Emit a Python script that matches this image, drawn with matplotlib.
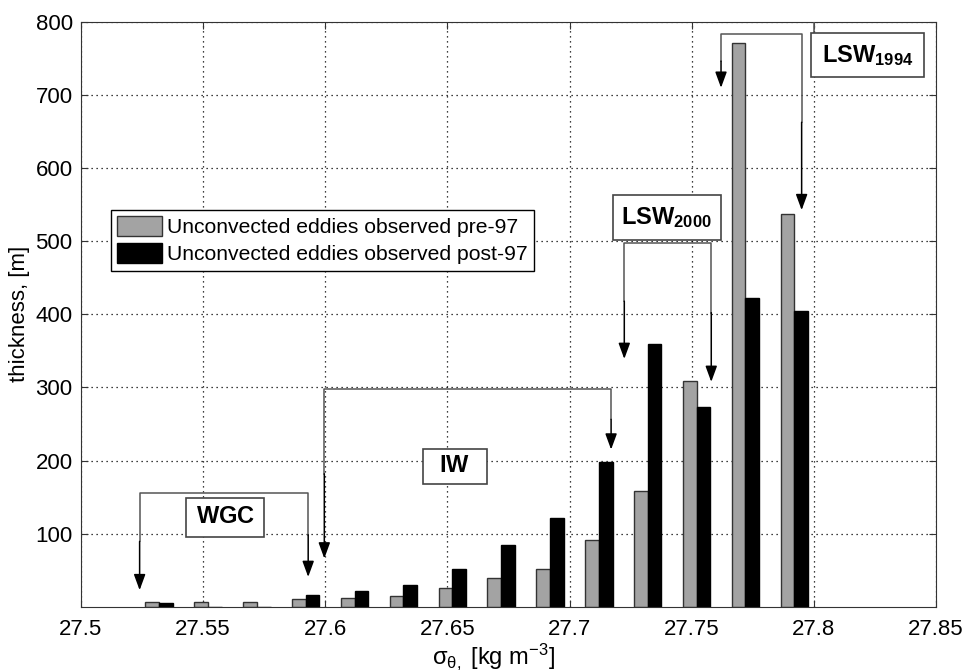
import numpy as np
import matplotlib
matplotlib.use("Agg")
import matplotlib.pyplot as plt
from matplotlib.patches import Rectangle

plt.rcParams['font.family'] = ['Liberation Sans', 'DejaVu Sans']
plt.rcParams['mathtext.fontset'] = 'custom'
plt.rcParams['mathtext.rm'] = 'Liberation Sans'
plt.rcParams['mathtext.it'] = 'Liberation Sans:italic'
plt.rcParams['mathtext.bf'] = 'Liberation Sans:bold'

# density bin centres
sigma = [27.532, 27.552, 27.572, 27.592, 27.612, 27.632, 27.652,
         27.672, 27.692, 27.712, 27.732, 27.752, 27.772, 27.792]
pre97 = [6, 6, 7, 10, 11.5, 14.5, 25, 39, 52, 91, 158, 309, 771, 537]
post97 = [4.5, 0, 0, 16, 22, 30, 51, 85, 122, 198, 359, 273, 422, 404]

xticks = [27.5, 27.55, 27.6, 27.65, 27.7, 27.75, 27.8, 27.85]
xticklabels = ['27.5', '27.55', '27.6', '27.65', '27.7', '27.75', '27.8', '27.85']
yticks = [100, 200, 300, 400, 500, 600, 700, 800]

# water mass brackets: label, y of bracket, x left, x right, tip left, tip right, box (x0, y0, x1, y1)
masses = [
    (r'$\mathbf{WGC}$', 156, 27.524, 27.593, 22.6, 40.7, (27.543, 96, 27.575, 149)),
    (r'$\mathbf{IW}$', 297.6, 27.5996, 27.717, 66, 215, (27.640, 168, 27.666, 216)),
    (r'$\mathbf{LSW}_{\mathbf{2000}}$', 497, 27.7224, 27.758, 339, 307.6, (27.7176, 502, 27.762, 563)),
    (r'$\mathbf{LSW}_{\mathbf{1994}}$', 783, 27.762, 27.795, 710, 542.6, (27.799, 724.6, 27.845, 784.8)),
]

fig = plt.figure(figsize=(9.66, 6.72), dpi=100)
ax = fig.add_axes([81/966, 1-606.7/672, 855/966, 584.7/672])

w = 0.0056
x = np.array(sigma)
ax.bar(x - w/2, pre97, width=w, color='#a3a3a3', edgecolor='#333333', linewidth=1,
       label='Unconvected eddies observed pre-97', zorder=2)
ax.bar(x + w/2, post97, width=w, color='black', edgecolor='black', linewidth=1,
       label='Unconvected eddies observed post-97', zorder=2)

ax.set_xlim(27.5, 27.85)
ax.set_ylim(0, 800)
ax.set_xticks(xticks)
ax.set_xticklabels(xticklabels)
ax.set_yticks(yticks)
ax.tick_params(direction='in', length=5, top=True, right=True, labelsize=16,
               color='#333333', pad=6)
ax.tick_params(axis='x', pad=9)
for s in ax.spines.values():
    s.set_color('#333333')
ax.grid(True, color='black', linestyle=(0, (1, 3)), linewidth=0.9)
ax.set_axisbelow(True)

ax.set_ylabel('thickness, [m]', fontsize=16)
ax.set_xlabel(r'σ$_{\mathrm{θ,}}$ [kg m$^{\mathrm{-3}}$]', fontsize=17)
ax.xaxis.set_label_coords(0.482, -0.058)

leg = ax.legend(loc='upper left', bbox_to_anchor=(0.035, 0.679), borderaxespad=0,
                fontsize=15.2, frameon=True, fancybox=False, handlelength=2.1,
                handleheight=1.05, handletextpad=0.25, labelspacing=0.3, borderpad=0.3)
leg.get_frame().set_edgecolor('black')
leg.get_frame().set_linewidth(1)
leg.get_frame().set_alpha(1)

for name, ytop, xl, xr, tl, tr, box in masses:
    ax.plot([xl, xl, xr, xr], [(ytop + tl)/2, ytop, ytop, (ytop + tr)/2],
            color='#555555', lw=1.1, zorder=4)
    for xx, tip in [(xl, tl), (xr, tr)]:
        ax.annotate('', xy=(xx, tip), xytext=(xx, (ytop + tip)/2),
                    arrowprops=dict(arrowstyle='-|>,head_length=0.6,head_width=0.22',
                                    color='black', lw=1.1,
                                    mutation_scale=16, shrinkA=0, shrinkB=0),
                    zorder=5)
    x0, y0, x1, y1 = box
    ax.add_patch(Rectangle((x0, y0), x1 - x0, y1 - y0, facecolor='white',
                           edgecolor='#444444', lw=1.2, zorder=6))
    ax.text((x0 + x1)/2, (y0 + y1)/2, name, ha='center', va='center',
            fontsize=17, zorder=7)

# short connector from the top of the axes to the LSW1994 box
ax.plot([27.8, 27.8], [784.8, 800], color='#555555', lw=1.1, zorder=4)

fig.savefig('out.png', dpi=100)
